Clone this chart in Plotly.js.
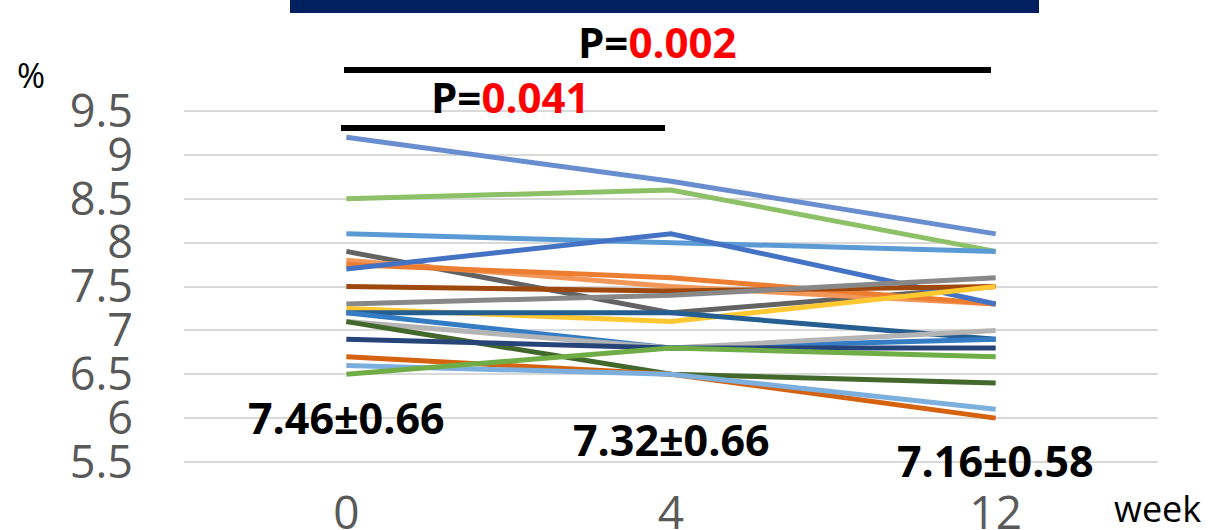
<!DOCTYPE html>
<html>
<head>
<meta charset="utf-8">
<script src="https://cdn.plot.ly/plotly-3.0.1.min.js"></script>
<style>html,body{margin:0;padding:0;background:#fff;}#chart{width:1208px;height:530px;}</style>
</head>
<body>
<div id="chart"></div>
<script>
// Categories (weeks)
const weeks = ["0", "4", "12"];
// Individual patient HbA1c values (%) at week 0, 4, 12
const p01 = [9.2, 8.7, 8.1];
const p02 = [8.5, 8.6, 7.9];
const p03 = [8.1, 8.0, 7.9];
const p04 = [7.9, 7.2, 7.5];
const p05 = [7.8, 7.5, 7.3];
const p06 = [7.75, 7.6, 7.3];
const p07 = [7.7, 8.1, 7.3];
const p08 = [7.5, 7.45, 7.5];
const p09 = [7.3, 7.4, 7.6];
const p10 = [7.25, 7.1, 7.5];
const p11 = [7.2, 7.2, 6.9];
const p12 = [7.2, 6.8, 6.9];
const p13 = [7.1, 6.8, 7.0];
const p14 = [7.1, 6.5, 6.4];
const p15 = [6.9, 6.8, 6.8];
const p16 = [6.7, 6.5, 6.0];
const p17 = [6.6, 6.5, 6.1];
const p18 = [6.5, 6.8, 6.7];
const series = [p01,p02,p03,p04,p05,p06,p07,p08,p09,p10,p11,p12,p13,p14,p15,p16,p17,p18];
const colors = ["#698ED0","#8CC168","#5B9BD5","#636363","#F1975A","#ED7D31","#4472C4","#9E480E",
                "#888888","#FFC830","#255E91","#347CC4","#B4B4B4","#43682B","#264478","#D4620F","#7CAFDD","#70AD47"];
// Tick labels
const yTicks = [5.5, 6, 6.5, 7, 7.5, 8, 8.5, 9, 9.5];
const yTickText = ["5.5", "6", "6.5", "7", "7.5", "8", "8.5", "9", "9.5"];
// Mean ± SD labels
const meanLabels = ["7.46±0.66", "7.32±0.66", "7.16±0.58"];
const pValues = ["0.041", "0.002"];

const traces = series.map((s, i) => ({
  type: "scatter", mode: "lines", x: weeks, y: s,
  line: {color: colors[i], width: 5},
  hoverinfo: "skip", showlegend: false
}));

const plotTop = 100, plotBottom = 482, plotH = plotBottom - plotTop;
const py = p => (plotBottom - p) / plotH;
const px = p => (p - 184) / 974;

const boldFont = {family: "Open Sans", size: 43, color: "#000000", weight: 700};
const annotations = [
  {x: 0, xref: "x", y: py(417), yref: "paper", text: meanLabels[0], showarrow: false, font: boldFont, xanchor: "center", yanchor: "middle"},
  {x: 1, xref: "x", y: py(439), yref: "paper", text: meanLabels[1], showarrow: false, font: boldFont, xanchor: "center", yanchor: "middle"},
  {x: 2, xref: "x", y: py(460), yref: "paper", text: meanLabels[2], showarrow: false, font: boldFont, xanchor: "center", yanchor: "middle"},
  {x: px(657), xref: "paper", y: py(42), yref: "paper", text: "P=<span style='color:#FF0000'>" + pValues[1] + "</span>", showarrow: false,
   font: {family: "Open Sans", size: 42, color: "#000000", weight: 700}, xanchor: "center", yanchor: "middle"},
  {x: px(510), xref: "paper", y: py(96), yref: "paper", text: "P=<span style='color:#FF0000'>" + pValues[0] + "</span>", showarrow: false,
   font: {family: "Open Sans", size: 42, color: "#000000", weight: 700}, xanchor: "center", yanchor: "middle"},
  {x: px(1157), xref: "paper", y: py(508), yref: "paper", text: "week", showarrow: false,
   font: {family: "Open Sans", size: 36, color: "#000000"}, xanchor: "center", yanchor: "middle"},
  {x: px(31), xref: "paper", y: py(75), yref: "paper", text: "%", showarrow: false,
   font: {family: "Open Sans", size: 34, color: "#000000"}, xanchor: "center", yanchor: "middle"}
];

const shapes = [
  {type: "rect", xref: "paper", yref: "paper", x0: px(290), x1: px(1039), y0: py(13), y1: py(-5), fillcolor: "#002060", line: {width: 0}},
  {type: "line", xref: "paper", yref: "paper", x0: px(344), x1: px(991), y0: py(70), y1: py(70), line: {color: "#000000", width: 6}},
  {type: "line", xref: "paper", yref: "paper", x0: px(341), x1: px(665), y0: py(128), y1: py(128), line: {color: "#000000", width: 6}}
];

const yTop = 9.5 + (111 - plotTop) / 87.75;
const yBot = 5.5 - (plotBottom - 462) / 87.75;

const layout = {
  width: 1208, height: 530,
  margin: {l: 184, r: 50, t: plotTop, b: 530 - plotBottom},
  paper_bgcolor: "#ffffff", plot_bgcolor: "#ffffff",
  xaxis: {type: "category", range: [-0.5, 2.5], showgrid: false, zeroline: false, showline: false,
          ticks: "", tickfont: {family: "Open Sans", size: 46, color: "#595959"}, fixedrange: true},
  yaxis: {range: [yBot, yTop], tickvals: yTicks, ticktext: yTickText, showgrid: true, gridcolor: "#D9D9D9", gridwidth: 2,
          zeroline: false, showline: false, ticks: "", ticklabelstandoff: 50,
          tickfont: {family: "Open Sans", size: 45, color: "#595959"}, fixedrange: true},
  annotations: annotations, shapes: shapes, showlegend: false
};

Plotly.newPlot("chart", traces, layout, {displayModeBar: false, staticPlot: true});
</script>
</body>
</html>
